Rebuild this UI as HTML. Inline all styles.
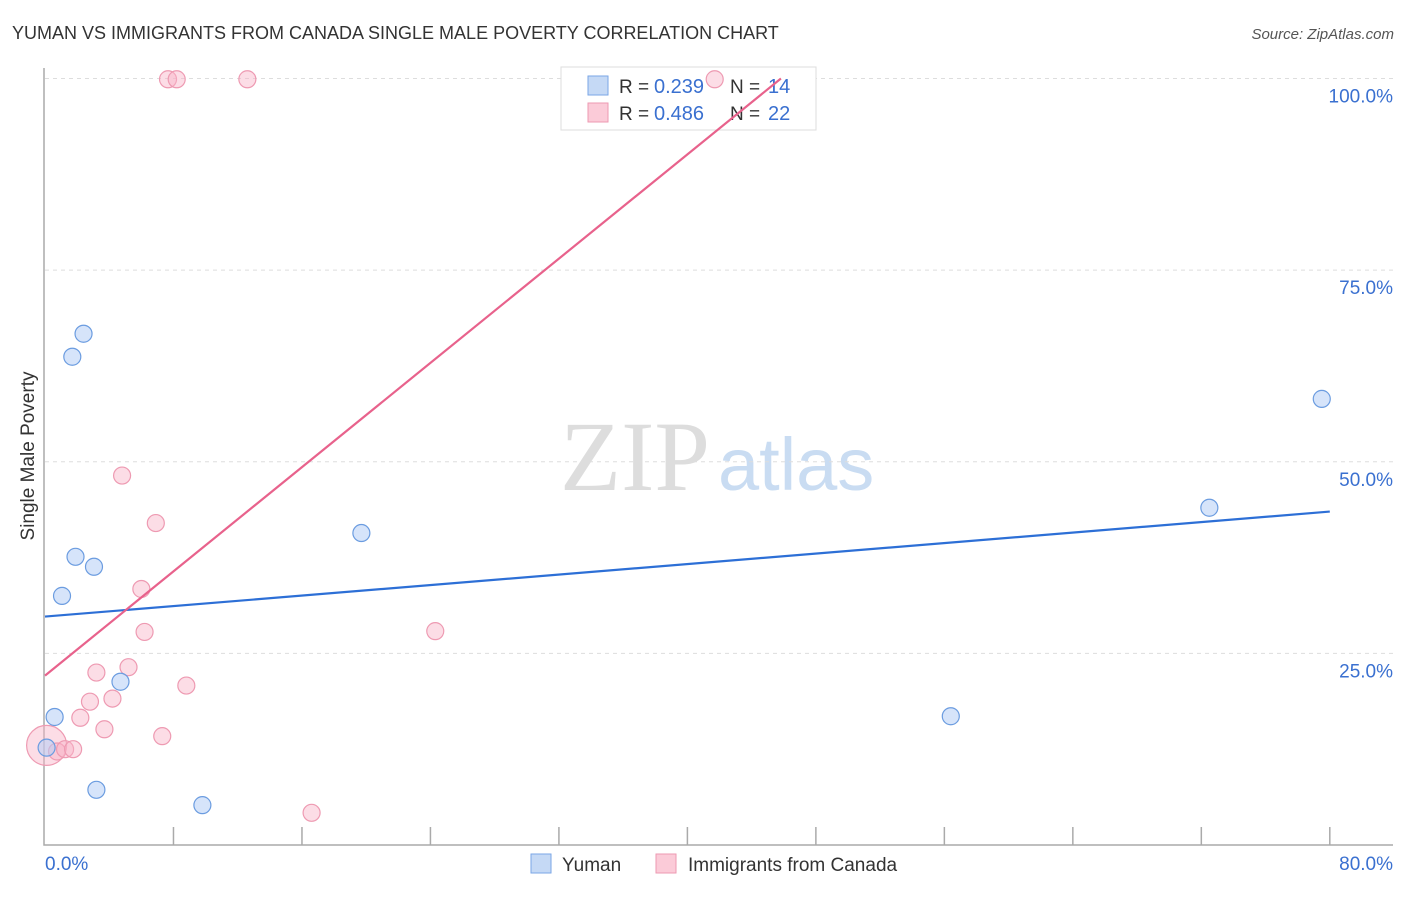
<!DOCTYPE html>
<html><head><meta charset="utf-8"><style>
body{margin:0;background:#fff;font-family:"Liberation Sans",sans-serif;}
</style></head><body>
<svg id="c" width="1406" height="892" font-family="Liberation Sans, sans-serif">
<text x="12" y="39" font-size="18" fill="#333">YUMAN VS IMMIGRANTS FROM CANADA SINGLE MALE POVERTY CORRELATION CHART</text>
<text x="1394" y="39" font-size="15" fill="#555" text-anchor="end" font-style="italic">Source: ZipAtlas.com</text>
<text x="635" y="490" font-size="100" fill="#ddd" text-anchor="middle" style="font-family:'Liberation Serif',serif">ZIP</text>
<text x="718" y="490" font-size="74" fill="#c9dcf2">atlas</text>
<text transform="translate(34,456) rotate(-90)" font-size="19" fill="#333" text-anchor="middle">Single Male Poverty</text>
<g id="grid"></g>
<g>
<rect x="561" y="67" width="255" height="63" fill="#fff" stroke="#ddd"/>
<rect x="588" y="76" width="20" height="19" fill="#c5d9f5" stroke="#7aa6e6"/>
<rect x="588" y="103" width="20" height="19" fill="#fbcbd8" stroke="#ee9ab2"/>
<text x="619" y="93" font-size="19" fill="#333">R =</text><text x="654" y="93" font-size="20" fill="#3a70d0">0.239</text>
<text x="730" y="93" font-size="19" fill="#333">N =</text><text x="768" y="93" font-size="20" fill="#3a70d0">14</text>
<text x="619" y="120" font-size="19" fill="#333">R =</text><text x="654" y="120" font-size="20" fill="#3a70d0">0.486</text>
<text x="730" y="120" font-size="19" fill="#333">N =</text><text x="768" y="120" font-size="20" fill="#3a70d0">22</text>
</g>
<g id="marks"></g>
<g>
<rect x="531" y="854" width="20" height="19" fill="#c5d9f5" stroke="#7aa6e6"/>
<text x="562" y="871" font-size="19" fill="#333">Yuman</text>
<rect x="656" y="854" width="20" height="19" fill="#fbcbd8" stroke="#ee9ab2"/>
<text x="688" y="871" font-size="19" fill="#333">Immigrants from Canada</text>
</g>
</svg>
<script>
const yTicks=[25,50,75,100];
const xTickLabels=["0.0%","80.0%"];
const yumanX=[0.1,0.6,1.06,1.7,2.4,1.9,3.05,3.2,4.7,9.8,19.7,56.4,72.5,79.5];
const yumanY=[12.7,16.7,32.5,63.7,66.7,37.6,36.3,7.2,21.3,5.2,40.7,16.8,44.0,58.2];
const canX=[7.66,8.2,12.6,41.7,4.8,6.9,6.0,6.2,24.3,5.2,3.2,8.8,4.2,2.8,2.2,3.7,7.3,16.6,0.1,0.75,1.25,1.75];
const canY=[99.9,99.9,99.9,99.9,48.2,42.0,33.4,27.8,27.9,23.2,22.5,20.8,19.1,18.7,16.6,15.1,14.2,4.2,13.0,12.2,12.5,12.5];
const yumanTrend=[29.8,43.5];
const canTrend=[22.1,1.70];
const X=v=>45+v*16.06, Y=v=>845-v*7.665;
const NS="http://www.w3.org/2000/svg";
function mk(t,a,p){const e=document.createElementNS(NS,t);for(const k in a)e.setAttribute(k,a[k]);p.appendChild(e);return e;}
const g=document.getElementById('grid'),m=document.getElementById('marks');
yTicks.forEach(t=>{
 const l=mk('line',{x1:45,x2:1393,y1:Y(t),y2:Y(t),stroke:'#ddd','stroke-dasharray':'4,4'},g);
 
 
 const tx=mk('text',{x:1393,y:Y(t)+24,'font-size':19,fill:'#3a70d0','text-anchor':'end'},g);
 tx.textContent=t.toFixed(1)+'%';
 
 
});
const ax=mk('path',{d:'M44,68V845H1393',stroke:'#aaa',fill:'none','stroke-width':1.5},g);


for(let i=1;i<=10;i++){const tk=mk('line',{x1:X(i*8),x2:X(i*8),y1:827,y2:845,stroke:'#aaa','stroke-width':1.5},g);
 
 }
const t0=mk('text',{x:45,y:870,'font-size':19,fill:'#3a70d0'},g);t0.textContent=xTickLabels[0];


const t1=mk('text',{x:1393,y:870,'font-size':19,fill:'#3a70d0','text-anchor':'end'},g);t1.textContent=xTickLabels[1];


canX.forEach((x,i)=>{const c=mk('circle',{cx:X(x),cy:Y(canY[i]),r:i==18?20:8.5,fill:'rgba(248,180,200,0.45)',stroke:'#ee9ab2','stroke-width':1.2},m);
 
 });
yumanX.forEach((x,i)=>{const c=mk('circle',{cx:X(x),cy:Y(yumanY[i]),r:8.5,fill:'rgba(180,205,245,0.55)',stroke:'#6b9ce0','stroke-width':1.2},m);
 
 });
const bl=mk('line',{x1:X(0),y1:Y(yumanTrend[0]),x2:X(80),y2:Y(yumanTrend[1]),stroke:'#2d6fd6','stroke-width':2.2},m);


const xe=(100-canTrend[0])/canTrend[1];
const pl=mk('line',{x1:X(0),y1:Y(canTrend[0]),x2:X(xe),y2:Y(100),stroke:'#e8628c','stroke-width':2.2},m);


</script>
</body></html>
